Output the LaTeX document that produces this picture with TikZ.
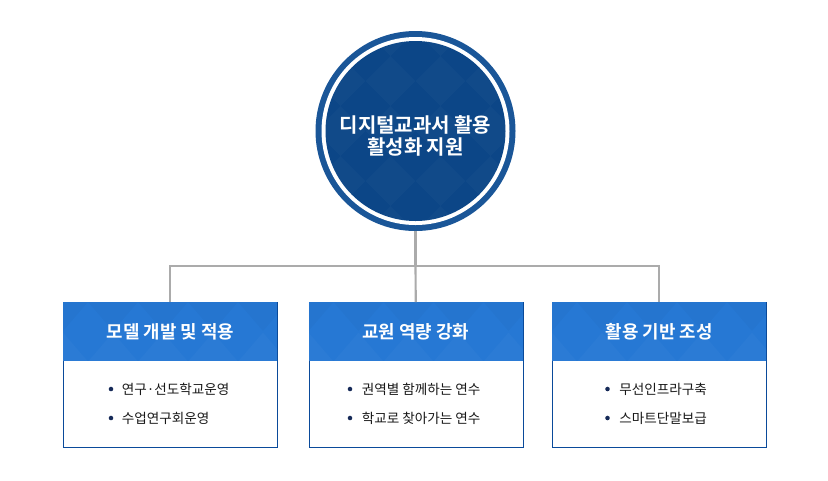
\documentclass[tikz,border=0pt]{standalone}
\usepackage{fontspec}
\usetikzlibrary{calc}
\newfontfamily\kr{Noto Sans CJK KR}
\newfontfamily\krb{Noto Sans CJK KR Bold}
\definecolor{navy}{RGB}{12,70,135}
\definecolor{ringblue}{RGB}{26,86,152}
\definecolor{headblue}{RGB}{38,120,212}
\definecolor{boxborder}{RGB}{10,74,154}
\definecolor{dotblue}{RGB}{22,42,88}
\definecolor{conngray}{RGB}{171,171,171}
\definecolor{bodytext}{RGB}{25,25,25}
\tikzset{
  conn/.style={draw=conngray, line width=1.6pt},
  headbox/.style={fill=headblue, minimum width=160.5pt, minimum height=44.25pt, inner sep=0pt, anchor=north west, text=white, font=\krb\fontsize{13.4pt}{15pt}\selectfont},
  bodybox/.style={fill=white, draw=boxborder, line width=0.8pt, minimum width=160.5pt, minimum height=108.75pt, inner sep=0pt, anchor=north west},
  dotmark/.style={circle, fill=dotblue, inner sep=0pt, minimum size=3.4pt},
  item/.style={anchor=west, inner sep=0pt, text=bodytext, font=\kr\fontsize{10.2pt}{12pt}\selectfont},
}
\begin{document}
\begin{tikzpicture}[x=0.75pt,y=-0.75pt]
\useasboundingbox (0,0) rectangle (828,480);
% central circle
\node (c) [circle, fill=ringblue, minimum size=150pt, inner sep=0pt] at (415.5,131) {};
\node (cw) [circle, fill=white, minimum size=141pt, inner sep=0pt] at (c.center) {};
\node (ci) [circle, fill=navy, minimum size=135pt, inner sep=0pt] at (c.center) {};
\begin{scope}
\clip (c.center) circle (67.5pt);
\foreach \i in {-3,...,3} {
  \foreach \j in {-3,...,3} {
    \fill[white, opacity=0.022] ($(c.center)+(\i*50,\j*50)$) -- ++(25,-25) -- ++(25,25) -- ++(-25,25) -- cycle;
  }
}
\end{scope}
\node (ct) [text=white, align=center, font=\krb\fontsize{15pt}{17pt}\selectfont, inner sep=0pt] at (415.5,136) {디지털교과서 활용\\활성화 지원};
% boxes
\node (b1) [bodybox] at (63,302) {};
\node (b2) [bodybox] at (308.5,302) {};
\node (b3) [bodybox] at (552,302) {};
\node (h1) [headbox] at (63,302) {모델 개발 및 적용};
\node (h2) [headbox] at (308.5,302) {교원 역량 강화};
\node (h3) [headbox] at (552,302) {활용 기반 조성};
\foreach \k in {1,2,3} {
  \begin{scope}
  \clip (h\k.north west) rectangle (h\k.south east);
  \foreach \i in {0,...,5} {
    \fill[white, opacity=0.025] ($(h\k.south west)+(\i*50-25,0)$) -- ++(25,-29) -- ++(25,29) -- cycle;
    \fill[black, opacity=0.02] ($(h\k.north west)+(\i*50-25,0)$) -- ++(25,29) -- ++(25,-29) -- cycle;
  }
  \end{scope}
}
% connectors
\coordinate (j) at (415.5,266);
\draw[conn] (c.south) -- (j);
\draw[conn] (j) -- (h2.north);
\draw[conn] (h1.north) |- (j) -| (h3.north);
% items
\node (d11) [dotmark] at (111,389) {};
\node (t11) [item] at (121.5,389) {연구·선도학교운영};
\node (d12) [dotmark] at (111,418) {};
\node (t12) [item] at (121.5,418) {수업연구회운영};
\node (d21) [dotmark] at (350,389) {};
\node (t21) [item] at (361.5,389) {권역별 함께하는 연수};
\node (d22) [dotmark] at (350,418) {};
\node (t22) [item] at (361.5,418) {학교로 찾아가는 연수};
\node (d31) [dotmark] at (607.5,389) {};
\node (t31) [item] at (619,389) {무선인프라구축};
\node (d32) [dotmark] at (607.5,418) {};
\node (t32) [item] at (619,418) {스마트단말보급};
\end{tikzpicture}
\end{document}
